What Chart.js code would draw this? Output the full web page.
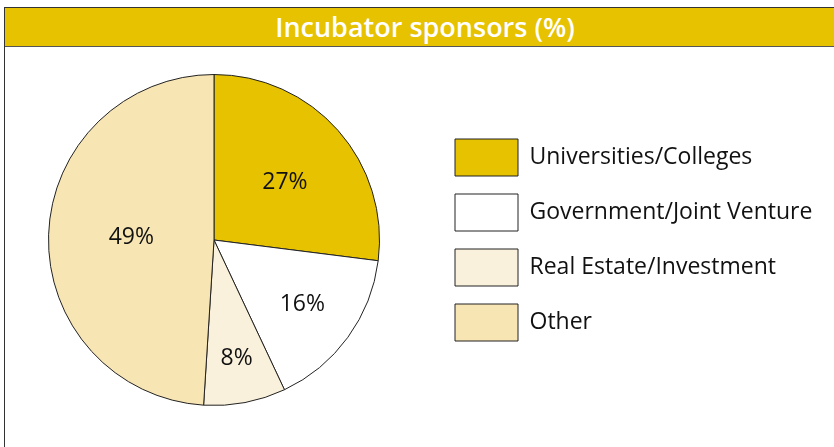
<!DOCTYPE html>
<html>
<head>
<meta charset="utf-8">
<script src="https://cdn.jsdelivr.net/npm/chart.js@4.4.1/dist/chart.umd.min.js"></script>
<style>
  html, body { margin: 0; padding: 0; background: #fff; overflow: hidden; width: 834px; height: 447px; }
  #frame { position: absolute; left: 4px; top: 7px; width: 900px; height: 500px; border: 1px solid #333; }
  #title { position: absolute; left: 5px; top: 8px; width: 900px; height: 38px; background: #e6c200;
           border-bottom: 1px solid #555; color: #fff; font: 600 27px "Open Sans", sans-serif;
           line-height: 37px; }
  #title span { position: absolute; left: 420px; transform: translateX(-50%); white-space: nowrap; }
  #chart { position: absolute; left: -9px; top: 48px; }
</style>
</head>
<body>
<div id="frame"></div>
<div id="title"><span>Incubator sponsors (%)</span></div>
<canvas id="chart" width="900" height="399"></canvas>
<script>
// data
var categories = ['Universities/Colleges', 'Government/Joint Venture', 'Real Estate/Investment', 'Other'];
var values = [27, 16, 8, 49];
var colours = ['#e6c200', '#ffffff', '#faf1dc', '#f8e5b4'];

var legendFont = { family: '"Open Sans", sans-serif', size: 23 };

// work out how wide the legend will be so the boxes land at the same place
var mctx = document.createElement('canvas').getContext('2d');
mctx.font = legendFont.size + 'px ' + legendFont.family;
var maxText = 0;
categories.forEach(function(c) { maxText = Math.max(maxText, mctx.measureText(c).width); });
var colW = 63 + legendFont.size / 2 + maxText;
var padRight = 900 - 474 - colW;

// percent labels inside the slices
var pctLabels = {
  id: 'pctLabels',
  afterDatasetsDraw: function(chart, args, opts) {
    var ctx = chart.ctx;
    var meta = chart.getDatasetMeta(0);
    ctx.save();
    ctx.font = '23px "Open Sans", sans-serif';
    ctx.fillStyle = '#111';
    ctx.textAlign = 'center';
    ctx.textBaseline = 'middle';
    meta.data.forEach(function(arc, i) {
      var p = arc.getProps(['x', 'y', 'startAngle', 'endAngle', 'outerRadius'], true);
      var mid = (p.startAngle + p.endAngle) / 2 + opts.shift[i];
      var r = p.outerRadius * opts.radius[i];
      ctx.fillText(values[i] + '%', p.x + Math.cos(mid) * r, p.y + Math.sin(mid) * r);
    });
    ctx.restore();
  }
};

var chartPie = new Chart(document.getElementById('chart'), {
  type: 'pie',
  data: {
    labels: categories,
    datasets: [{
      data: values,
      backgroundColor: colours,
      borderColor: '#222',
      borderWidth: 1
    }]
  },
  options: {
    responsive: false,
    animation: false,
    layout: { padding: { top: 26, bottom: 41, left: 0, right: padRight } },
    plugins: {
      legend: {
        position: 'right',
        labels: {
          boxWidth: 63,
          boxHeight: 37,
          padding: 18,
          color: '#111',
          font: legendFont
        }
      },
      tooltip: { enabled: false },
      pctLabels: { radius: [0.55, 0.66, 0.73, 0.5], shift: [0.045, 0, 0, 0] }
    }
  },
  plugins: [pctLabels]
});
</script>
</body>
</html>
